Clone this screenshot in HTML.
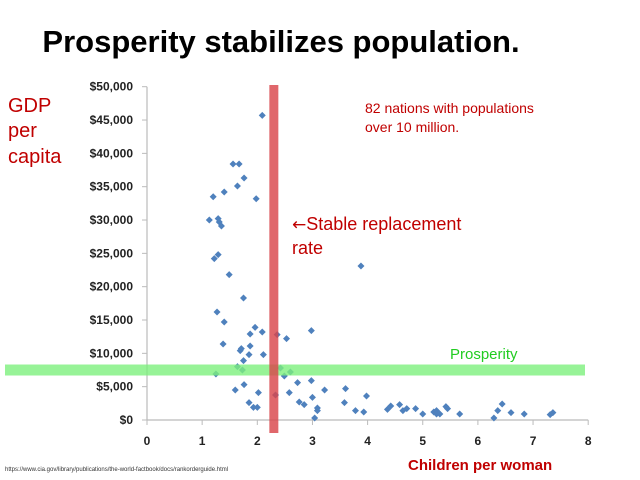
<!DOCTYPE html>
<html><head><meta charset="utf-8"><style>
body{margin:0;background:#fff;width:640px;height:480px;overflow:hidden;font-family:"Liberation Sans",sans-serif}
svg{display:block}
</style></head><body>
<svg id="chart" width="640" height="480">
<text x="281" y="52" text-anchor="middle" font-size="31" font-weight="bold" fill="#000">Prosperity stabilizes population.</text>
<g fill="#c00000" font-size="20">
<text x="8" y="112">GDP</text><text x="8" y="137">per</text><text x="8" y="163">capita</text></g>
<text x="365" y="113" font-size="14" fill="#c00000">82 nations with populations</text>
<text x="365" y="132" font-size="14" fill="#c00000">over 10 million.</text>
<text x="292" y="230" font-size="18" fill="#c00000"><tspan font-family="DejaVu Sans" font-size="17">←</tspan>Stable replacement</text>
<text x="292" y="254" font-size="18" fill="#c00000">rate</text>
<text x="450" y="359" font-size="15" fill="#22cc22">Prosperity</text>
<text x="408" y="470" font-size="15" font-weight="bold" fill="#c00000">Children per woman</text>
<text x="5" y="471" font-size="6" fill="#333">https://www.cia.gov/library/publications/the-world-factbook/docs/rankorderguide.html</text>
<g id="axes"></g><g id="pts"></g><g id="bands"></g>
</svg>
<script>
const xTicks=[0,1,2,3,4,5,6,7,8];
const yTicks=[0,5000,10000,15000,20000,25000,30000,35000,40000,45000,50000];
const children=[2.09,1.56,1.67,1.76,1.64,1.2,1.4,1.98,1.13,1.29,1.31,1.35,1.22,1.29,1.49,1.75,1.27,1.4,1.38,1.25,1.6,1.76,1.69,1.71,1.75,1.64,1.73,1.87,1.96,2.09,1.87,1.85,2.11,1.85,1.93,2.0,2.02,2.36,2.33,2.53,2.42,2.6,2.49,2.58,2.73,2.98,2.98,2.76,2.85,3.0,3.09,3.09,3.04,3.22,3.6,3.58,3.78,3.93,3.98,3.88,4.36,4.42,4.58,4.64,4.71,4.87,5.0,5.2,5.25,5.25,5.31,5.42,5.45,5.67,6.29,6.36,6.44,6.6,6.84,7.31,7.36];
const gdp=[45.7,38.4,38.4,36.3,35.1,33.5,34.2,33.2,30.0,30.2,29.7,29.1,24.2,24.8,21.8,18.3,16.2,14.7,11.4,6.9,4.5,5.3,10.4,10.7,8.9,8.0,7.5,12.9,13.9,13.2,11.1,9.8,9.8,2.6,1.9,1.9,4.1,12.8,3.75,12.2,7.8,7.2,6.6,4.1,5.6,13.4,5.9,2.7,2.3,3.4,1.8,1.4,0.3,4.5,4.7,2.6,1.4,1.2,3.6,23.1,1.6,2.1,2.3,1.4,1.7,1.7,0.9,1.2,1.4,0.9,0.9,2.0,1.7,0.9,0.3,1.4,2.4,1.1,0.9,0.8,1.1].map(v=>v*1000);
const replacementRate=[2.3];
const prosperityLevel=[7500];
const NS="http://www.w3.org/2000/svg";
const X=v=>147+v*55.15, Y=v=>420-v*0.006666;
function mk(t,a,p){const e=document.createElementNS(NS,t);for(const k in a)e.setAttribute(k,a[k]);p.appendChild(e);return e;}
const ax=document.getElementById('axes');
const yl=mk('line',{x1:147,x2:147,y1:Y(50000),y2:420,stroke:'#bbb','stroke-width':1.2},ax);


const xl=mk('line',{x1:147,x2:X(8),y1:420,y2:420,stroke:'#bbb','stroke-width':1.2},ax);


yTicks.forEach(v=>{mk('line',{x1:142,x2:147,y1:Y(v),y2:Y(v),stroke:'#bbb'},ax);
const t=mk('text',{x:133,y:Y(v)+4,'text-anchor':'end','font-size':12,'font-weight':'bold',fill:'#222'},ax);
t.textContent='$'+v.toLocaleString('en-US');

});
xTicks.forEach(v=>{mk('line',{x1:X(v),x2:X(v),y1:420,y2:425,stroke:'#bbb'},ax);
const t=mk('text',{x:X(v),y:445,'text-anchor':'middle','font-size':12,'font-weight':'bold',fill:'#222'},ax);
t.textContent=v;

});
const pg=document.getElementById('pts');
children.forEach((c,i)=>{const x=X(c),y=Y(gdp[i]);
const p=mk('polygon',{points:`${x},${y-3.5} ${x+3.5},${y} ${x},${y+3.5} ${x-3.5},${y}`,fill:'#4f81bd'},pg);

});
const bg=document.getElementById('bands');
prosperityLevel.forEach(v=>{const r=mk('rect',{x:5,y:Y(v)-5.5,width:580,height:11,fill:'#7df07d','fill-opacity':0.8},bg);

});
replacementRate.forEach(v=>{const r=mk('rect',{x:X(v)-4.5,y:85,width:9,height:348,fill:'#d9464a','fill-opacity':0.82},bg);

});
</script>
</body></html>
